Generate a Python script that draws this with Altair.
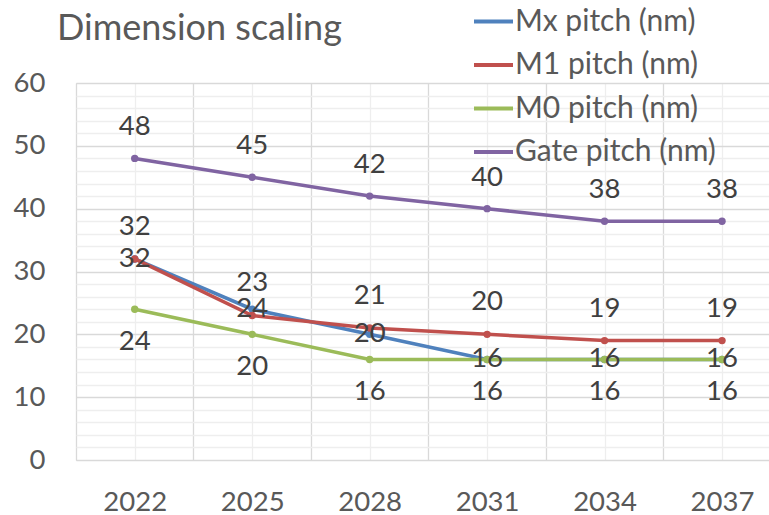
import altair as alt
import pandas as pd

years = [2022, 2025, 2028, 2031, 2034, 2037]
series_names = ["Mx pitch (nm)", "M1 pitch (nm)", "M0 pitch (nm)", "Gate pitch (nm)"]
mx_pitch = [32, 24, 20, 16, 16, 16]
m1_pitch = [32, 23, 21, 20, 19, 19]
m0_pitch = [24, 20, 16, 16, 16, 16]
gate_pitch = [48, 45, 42, 40, 38, 38]
series_colors = ["#4F81BD", "#C0504D", "#9BBB59", "#8064A2"]
y_ticks = list(range(0, 61, 2))

values = [mx_pitch, m1_pitch, m0_pitch, gate_pitch]
rows = []
for name, vals in zip(series_names, values):
    for yr, v in zip(years, vals):
        rows.append({"year": yr, "series": name, "value": v})
df = pd.DataFrame(rows)

# x grid: category centres (light) and category boundaries (dark)
x_grid_vals = [years[0] - 1.5] + sorted(years + [y + 1.5 for y in years[:-1]])

FONT = "Lato"
LIGHT = "#eeeeee"
DARK = "#d9d9d9"

x_enc = alt.X(
    "year:Q",
    scale=alt.Scale(domain=[2020.5, 2038.2], nice=False, zero=False),
    axis=alt.Axis(
        values=x_grid_vals,
        format="d",
        labelExpr="datum.value % 3 === 0 ? datum.label : ''",
        title=None,
        ticks=False,
        domain=False,
        grid=True,
        gridColor={"condition": {"test": "datum.value % 3 === 0", "value": LIGHT}, "value": DARK},
        gridWidth=1.3,
        labelFont=FONT,
        labelFontSize=27.5,
        labelColor="#595959",
        labelPadding=28,
        labelFlush=False,
        labelOverlap=False,
    ),
)
y_enc = alt.Y(
    "value:Q",
    scale=alt.Scale(domain=[0, 60], nice=False),
    axis=alt.Axis(
        values=y_ticks,
        labelExpr="datum.value % 10 === 0 ? datum.label : ''",
        title=None,
        ticks=False,
        domain=False,
        grid=True,
        gridColor={"condition": {"test": "datum.value % 10 === 0", "value": DARK}, "value": LIGHT},
        gridWidth=1.3,
        labelFont=FONT,
        labelFontSize=27.5,
        labelColor="#595959",
        labelPadding=31,
        labelOverlap=False,
    ),
)
color_enc = alt.Color(
    "series:N",
    scale=alt.Scale(domain=series_names, range=series_colors),
    sort=series_names,
    legend=alt.Legend(
        title=None,
        orient="none",
        legendX=396,
        legendY=-83,
        symbolType="stroke",
        symbolSize=1521,
        symbolStrokeWidth=4,
        labelFont=FONT,
        labelFontSize=30,
        labelColor="#595959",
        labelOffset=0,
        rowPadding=6.5,
        padding=0,
        labelLimit=400,
    ),
)

base = alt.Chart(df)

layers = []
for name in series_names:
    layers.append(
        base.transform_filter(alt.datum.series == name)
        .mark_line(strokeWidth=3.5, point=alt.OverlayMarkDef(filled=True, size=55))
        .encode(x=x_enc, y=y_enc, color=color_enc)
    )

label_offsets = {"Mx pitch (nm)": 0, "M1 pitch (nm)": -32, "M0 pitch (nm)": 33, "Gate pitch (nm)": -31}
for name in series_names:
    layers.append(
        base.transform_filter(alt.datum.series == name)
        .mark_text(font=FONT, fontSize=27.5, color="#404040", baseline="middle", dy=label_offsets[name])
        .encode(x=x_enc, y=y_enc, text=alt.Text("value:Q"))
    )

title = alt.Chart(pd.DataFrame({"t": ["Dimension scaling"]})).mark_text(
    font=FONT, fontSize=36, color="#595959", align="left", baseline="alphabetic"
).encode(x=alt.value(-19), y=alt.value(-43), text="t:N")

chart = (
    alt.layer(*layers, title)
    .properties(
        width=693,
        height=377,
        autosize=alt.AutoSizeParams(type="none"),
        padding={"left": 76, "top": 83, "right": 0, "bottom": 55},
    )
    .configure_view(strokeWidth=0)
    .configure(background="white")
)

chart.save("out.html", embed_options={"renderer": "svg", "actions": False})
